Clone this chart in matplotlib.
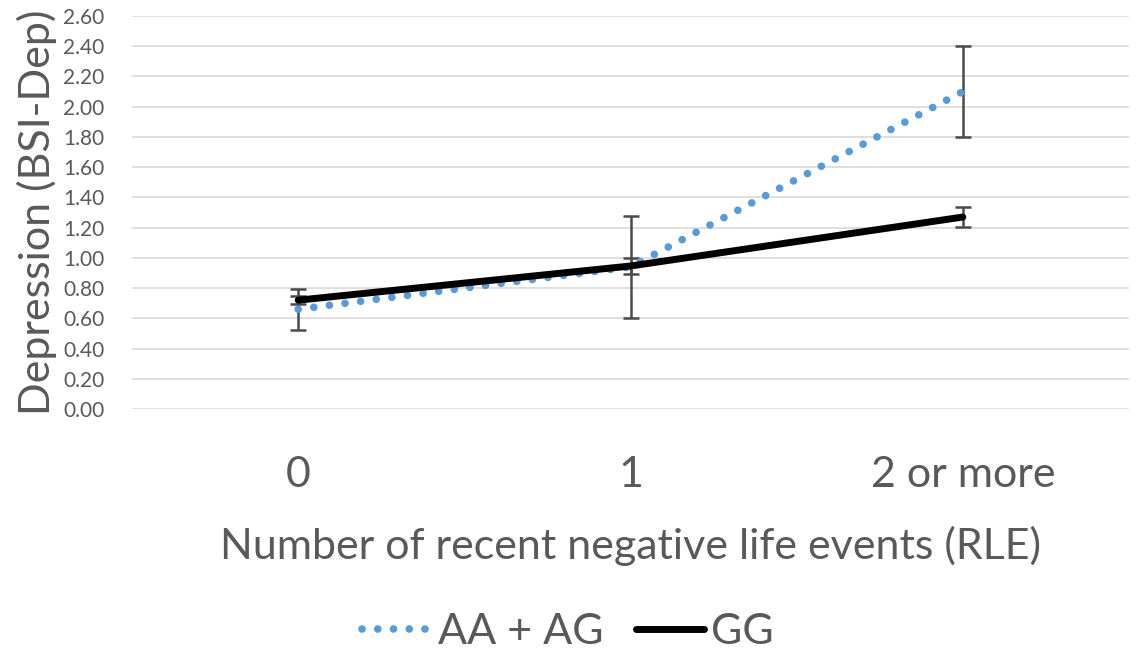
import matplotlib
matplotlib.use("Agg")
import matplotlib.pyplot as plt

# data
categories = ["0", "1", "2 or more"]
aa_ag = [0.66, 0.94, 2.10]
aa_ag_err = [0.135, 0.335, 0.30]
gg = [0.72, 0.946, 1.27]
gg_err = [0.027, 0.053, 0.066]
yticks = [0.0, 0.2, 0.4, 0.6, 0.8, 1.0, 1.2, 1.4, 1.6, 1.8, 2.0, 2.2, 2.4, 2.6]

plt.rcParams['font.family'] = ['Lato', 'DejaVu Sans']
text_col = '#595959'
big = 31

fig = plt.figure(figsize=(11.36, 6.49), dpi=100)
ax = fig.add_axes([132 / 1136, 1 - 409 / 649, 997 / 1136, 393 / 649])

x = list(range(len(categories)))

ax.errorbar(x, aa_ag, yerr=aa_ag_err, fmt='none', ecolor='#4a4a4a',
            elinewidth=1.8, capsize=6, capthick=1.8, zorder=3)
ax.errorbar(x, gg, yerr=gg_err, fmt='none', ecolor='#4a4a4a',
            elinewidth=1.8, capsize=6, capthick=1.8, zorder=3)
ax.plot(x, aa_ag, color='#5B9BD5', lw=5.5, linestyle=(0, (0.01, 2.05)),
        dash_capstyle='round', label='AA + AG', zorder=4)
ax.plot(x, gg, color='black', lw=5, solid_capstyle='round',
        label='GG', zorder=5)

ax.set_xlim(-0.5, 2.5)
ax.set_ylim(0, 2.6)
ax.set_yticks(yticks)
ax.set_yticklabels([f"{v:.2f}" for v in yticks], fontsize=15, color=text_col)
ax.set_xticks(x)
ax.set_xticklabels(categories, fontsize=big, color=text_col)
ax.tick_params(axis='both', length=0)
ax.tick_params(axis='x', pad=34)
ax.tick_params(axis='y', pad=20)
ax.grid(axis='y', color='#D9D9D9', lw=1.2)
ax.set_axisbelow(True)
for s in ax.spines.values():
    s.set_visible(False)

ax.set_ylabel("Depression (BSI-Dep)", fontsize=big, color=text_col, labelpad=4)
ax.set_xlabel("Number of recent negative life events (RLE)", fontsize=big,
              color=text_col, labelpad=23)

leg = fig.legend(loc='center', bbox_to_anchor=(0.5, 1 - 632 / 649), ncol=2,
                 frameon=False, fontsize=big, handlelength=1.6,
                 handletextpad=0.15, columnspacing=0.75, labelcolor=text_col)

fig.savefig("out.png", dpi=100)
